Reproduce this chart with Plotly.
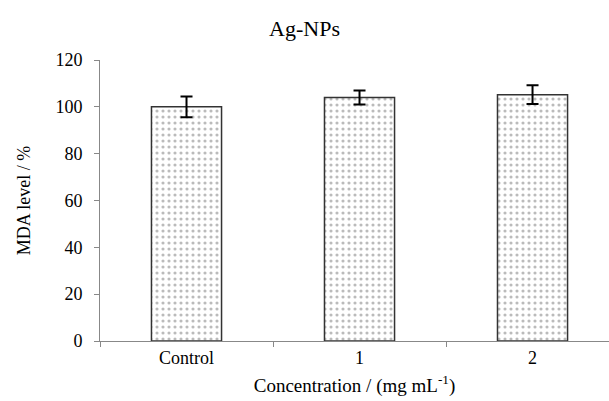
import plotly.graph_objects as go

categories = ["Control", "1", "2"]
mda_level = [100, 104, 105.2]
mda_error = [4.4, 3.0, 4.0]
y_ticks = [0, 20, 40, 60, 80, 100, 120]

font_family = "Liberation Serif"

fig = go.Figure()
fig.add_trace(go.Bar(
    x=categories,
    y=mda_level,
    width=0.405,
    marker=dict(
        color="white",
        line=dict(color="#333333", width=1.5),
        pattern=dict(shape=".", fgcolor="#777777", bgcolor="white", size=6, solidity=0.22),
    ),
    error_y=dict(type="data", array=mda_error, visible=True, color="black", thickness=2, width=6),
))

fig.update_layout(
    width=609, height=401,
    margin=dict(l=100, r=0, t=60, b=60),
    paper_bgcolor="white", plot_bgcolor="white",
    font=dict(family=font_family, size=18, color="black"),
    title=dict(text="Ag-NPs", x=0.5, xanchor="center", y=0.93, yanchor="middle",
               font=dict(family=font_family, size=22, color="black")),
    showlegend=False,
    xaxis=dict(
        range=[-0.5, 2.442],
        showline=True, linecolor="#888888", linewidth=1,
        ticks="outside", tickson="boundaries", ticklen=5, tickcolor="#888888",
        showgrid=False,
        title=dict(text="Concentration / (mg mL<sup>-1</sup>)", standoff=12,
                   font=dict(family=font_family, size=19, color="black")),
        tickfont=dict(family=font_family, size=18, color="black"),
    ),
    yaxis=dict(
        range=[0, 120], tickvals=y_ticks,
        showline=True, linecolor="#888888", linewidth=1,
        ticks="outside", ticklen=5, tickcolor="#888888",
        ticklabelstandoff=8,
        showgrid=False, zeroline=False,
        title=dict(text="MDA level / %", standoff=20,
                   font=dict(family=font_family, size=18, color="black")),
        tickfont=dict(family=font_family, size=18, color="black"),
    ),
)

fig.write_html("out.html")
